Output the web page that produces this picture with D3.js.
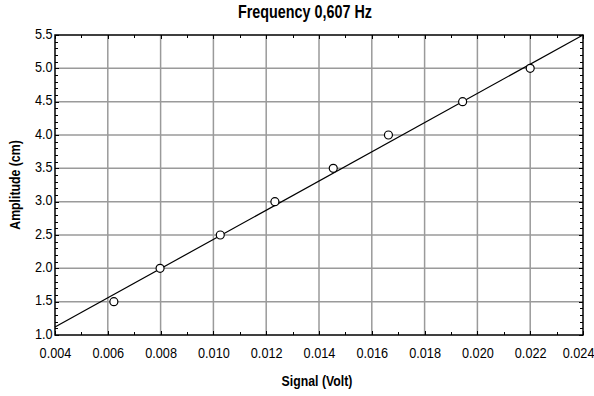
<!DOCTYPE html>
<html><head><meta charset="utf-8">
<script src="https://cdn.jsdelivr.net/npm/d3@7"></script>
<style>
body{margin:0;background:#fff;}
svg text{font-family:"Liberation Sans",Arial,sans-serif;fill:#000;}
</style></head>
<body><svg id="c" width="594" height="396"></svg>
<script>
const signal = [0.00623, 0.00798, 0.01026, 0.01233, 0.01454, 0.01663, 0.01944, 0.0220];
const amplitude = [1.5, 2.0, 2.5, 3.0, 3.5, 4.0, 4.5, 5.0];
const fitX = [0.004, 0.024];
const fitY = [1.12, 5.5];
const xTicks = [0.004, 0.006, 0.008, 0.010, 0.012, 0.014, 0.016, 0.018, 0.020, 0.022, 0.024];
const yTicks = [1.0, 1.5, 2.0, 2.5, 3.0, 3.5, 4.0, 4.5, 5.0, 5.5];
const title = "Frequency 0,607 Hz";
const xLabel = "Signal (Volt)";
const yLabel = "Amplitude (cm)";

const NARROW = 0.82;
const svg = d3.select("#c");
const L = 55, R = 583, T = 35, B = 335;
const x = d3.scaleLinear().domain([0.004, 0.024]).range([L, R]);
const y = d3.scaleLinear().domain([1.0, 5.5]).range([B, T]);

// grid
const g = svg.append("g");
g.selectAll(".vg").data(xTicks.slice(1, -1)).join("line")
  .attr("x1", d => x(d)).attr("x2", d => x(d)).attr("y1", T).attr("y2", B)
  .attr("stroke", "#9a9a9a").attr("stroke-width", 1.5);
g.selectAll(".hg").data(yTicks.slice(1, -1)).join("line")
  .attr("y1", d => y(d)).attr("y2", d => y(d)).attr("x1", L).attr("x2", R)
  .attr("stroke", "#9a9a9a").attr("stroke-width", 1.5);

// minor ticks
const xMinor = d3.range(0, 21).map(i => 0.004 + i * 0.001);
const yMinor = d3.range(0, 46).map(i => 1.0 + i * 0.1);
const t = svg.append("g").attr("stroke", "#000").attr("stroke-width", 1);
t.selectAll(".xb").data(xMinor).join("line")
  .attr("x1", d => Math.round(x(d)) + 0.5).attr("x2", d => Math.round(x(d)) + 0.5)
  .attr("y1", B).attr("y2", (d, i) => B - (i % 2 === 0 ? 4 : 3));
t.selectAll(".xt").data(xMinor).join("line")
  .attr("x1", d => Math.round(x(d)) + 0.5).attr("x2", d => Math.round(x(d)) + 0.5)
  .attr("y1", T).attr("y2", (d, i) => T + (i % 2 === 0 ? 4 : 3));
t.selectAll(".yl").data(yMinor).join("line")
  .attr("y1", d => Math.round(y(d)) + 0.5).attr("y2", d => Math.round(y(d)) + 0.5)
  .attr("x1", L).attr("x2", (d, i) => L + (i % 5 === 0 ? 4 : 3));
t.selectAll(".yr").data(yMinor).join("line")
  .attr("y1", d => Math.round(y(d)) + 0.5).attr("y2", d => Math.round(y(d)) + 0.5)
  .attr("x1", R).attr("x2", (d, i) => R - (i % 5 === 0 ? 4 : 3));

// frame
svg.append("rect").attr("x", L).attr("y", T).attr("width", R - L).attr("height", B - T)
  .attr("fill", "none").attr("stroke", "#000").attr("stroke-width", 1.5);

// axes labels via d3 axes (tick lines hidden, labels only)
const xAxis = d3.axisBottom(x).tickValues(xTicks).tickFormat(d3.format(".3f")).tickSize(0).tickPadding(12);
const xa = svg.append("g").attr("transform", `translate(0,${B})`).call(xAxis);
xa.attr("font-family", null).attr("font-size", null);
xa.select(".domain").remove();
xa.selectAll("text").attr("font-size", 15.5).attr("fill", "#000").attr("transform", `scale(${NARROW},1)`)
  .attr("dx", (d, i) => i === xTicks.length - 1 ? -6 : 0);

const yAxis = d3.axisLeft(y).tickValues(yTicks).tickFormat(d3.format(".1f")).tickSize(0).tickPadding(3);
const ya = svg.append("g").attr("transform", `translate(${L},0)`).call(yAxis);
ya.attr("font-family", null).attr("font-size", null);
ya.select(".domain").remove();
ya.selectAll("text").attr("font-size", 15.5).attr("fill", "#000").attr("dy", "0.2em").attr("transform", `scale(${NARROW},1)`);

// fit line
svg.append("path")
  .datum(fitX.map((d, i) => [d, fitY[i]]))
  .attr("d", d3.line().x(d => x(d[0])).y(d => y(d[1])))
  .attr("stroke", "#000").attr("stroke-width", 1.2).attr("fill", "none");

// points
svg.selectAll(".pt").data(signal.map((d, i) => [d, amplitude[i]])).join("circle")
  .attr("cx", d => x(d[0])).attr("cy", d => y(d[1])).attr("r", 4)
  .attr("fill", "#fff").attr("stroke", "#000").attr("stroke-width", 1.2);

// title & labels
svg.append("text").attr("transform", `translate(305,18) scale(${NARROW},1)`).attr("text-anchor", "middle")
  .attr("font-size", 17.5).attr("font-weight", "bold").text(title);
svg.append("text").attr("transform", `translate(317,386) scale(${NARROW},1)`).attr("text-anchor", "middle")
  .attr("font-size", 15).attr("font-weight", "bold").text(xLabel);
svg.append("text").attr("transform", `translate(20,185) rotate(-90) scale(${NARROW},1)`).attr("text-anchor", "middle")
  .attr("font-size", 15).attr("font-weight", "bold").text(yLabel);
</script></body></html>
